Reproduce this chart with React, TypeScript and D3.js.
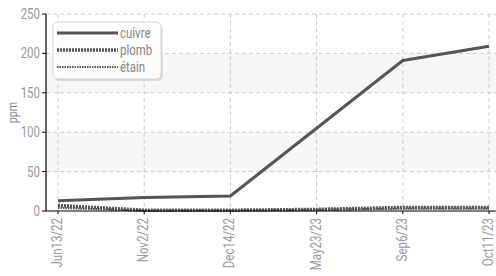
import React from 'react';
import * as d3 from 'd3';

// dates on x axis (categorical, evenly spaced)
const dates = ['Jun13/22', 'Nov2/22', 'Dec14/22', 'May23/23', 'Sep6/23', 'Oct11/23'];
const cuivre = [13, 17, 19, 105, 191, 209];
const plomb = [7, 1, 1, 2, 4.5, 4.5];
const etain = [4, 0.5, 0.5, 1.5, 3, 3];
const yTicks = [0, 50, 100, 150, 200, 250];

const width = 496;
const height = 276;
const margin = { top: 14, right: 7, bottom: 65, left: 46 };
const font = 'Roboto, sans-serif';
const squeeze = 0.82; // narrow the glyphs to look like a condensed face

const series = [
  { name: 'cuivre', values: cuivre, width: 3, dash: null },
  { name: 'plomb', values: plomb, width: 3.5, dash: '2,1' },
  { name: 'étain', values: etain, width: 2.2, dash: '1.5,1' },
];

// text drawn in a narrowed face; x/y is the anchor point
const Label = ({ x, y, anchor = 'start', size = 14, fill = '#999', rotate = 0, children }: any) => (
  <g transform={`translate(${x},${y}) rotate(${rotate}) scale(${squeeze},1)`}>
    <text dy="0.35em" textAnchor={anchor} fontFamily={font} fontSize={size} fill={fill}>{children}</text>
  </g>
);

export default function App() {
  const x = d3.scalePoint<string>()
    .domain(dates)
    .range([58, width - margin.right]);

  const y = d3.scaleLinear()
    .domain([0, 250])
    .range([height - margin.bottom, margin.top]);

  const line = d3.line<number>()
    .x((_, i) => x(dates[i]) as number)
    .y(d => y(d));

  const x0 = margin.left;
  const x1 = width;
  const yBase = y(0);

  return (
    <svg width={width} height={height} style={{ position: 'absolute', left: 0, top: 0 }}>
      {/* alternating bands */}
      {[[150, 200], [50, 100]].map(([a, b]) => (
        <rect key={a} x={x0} y={y(b)} width={x1 - x0} height={y(a) - y(b)} fill="#f7f7f7" />
      ))}

      {/* grid */}
      {yTicks.slice(1).map(t => (
        <line key={t} x1={x0} x2={x1} y1={y(t)} y2={y(t)} stroke="#ccc" strokeDasharray="4,3" />
      ))}
      {dates.map(d => (
        <line key={d} x1={x(d)} x2={x(d)} y1={y(250)} y2={yBase} stroke="#ccc" strokeDasharray="4,3" />
      ))}

      {/* series */}
      {series.map(s => (
        <path
          key={s.name}
          d={line(s.values) || ''}
          fill="none"
          stroke="#555"
          strokeWidth={s.width}
          strokeDasharray={s.dash || undefined}
          strokeLinejoin="round"
        />
      ))}

      {/* axes */}
      <line x1={x0} x2={x0} y1={y(250)} y2={yBase} stroke="#000" strokeWidth={1.2} />
      <line x1={x0} x2={x1} y1={yBase} y2={yBase} stroke="#000" strokeWidth={1.2} />
      {yTicks.map(t => (
        <g key={t}>
          <line x1={x0 - 4} x2={x0} y1={y(t)} y2={y(t)} stroke="#000" />
          <Label x={x0 - 6} y={y(t)} anchor="end">{t}</Label>
        </g>
      ))}
      {dates.map(d => (
        <g key={d}>
          <line x1={x(d)} x2={x(d)} y1={yBase} y2={yBase + 3} stroke="#000" />
          <Label x={(x(d) as number) - 1} y={yBase + 7} anchor="end" rotate={-90}>{d}</Label>
        </g>
      ))}
      <Label x={12} y={(y(250) + yBase) / 2} anchor="middle" size={13} fill="#888" rotate={-90}>ppm</Label>

      {/* legend */}
      <rect x={55} y={24} width={108} height={57} rx={5} fill="#000" opacity={0.1} />
      <rect x={53} y={22} width={108} height={57} rx={5} fill="#fff" fillOpacity={0.9} stroke="#d4d4d4" />
      {series.map((s, i) => (
        <g key={s.name}>
          <line x1={57} x2={118} y1={33 + i * 17} y2={33 + i * 17} stroke="#555" strokeWidth={s.width} strokeDasharray={s.dash || undefined} />
          <Label x={120} y={33 + i * 17} size={14} fill="#888">{s.name}</Label>
        </g>
      ))}
    </svg>
  );
}
